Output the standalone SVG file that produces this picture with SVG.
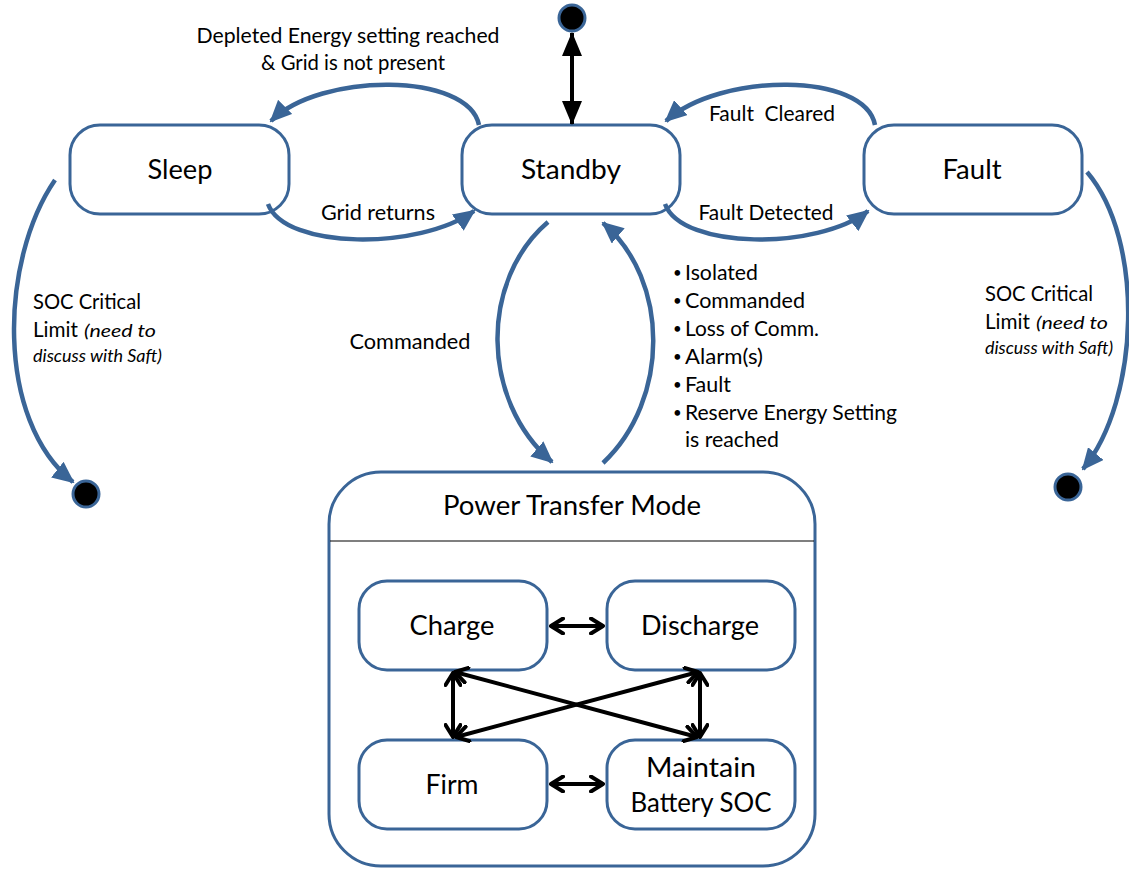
<svg xmlns="http://www.w3.org/2000/svg" width="1129" height="869" viewBox="0 0 1129 869">
  <style>
    .box { fill: #ffffff; stroke: #3a6597; stroke-width: 3; }
    .flow { fill: none; stroke: #3a6597; stroke-width: 4.5; marker-end: url(#blueHead); }
    .link { fill: none; stroke: #000000; stroke-width: 4; marker-start: url(#chev); marker-end: url(#chev); }
    .dot { fill: #000000; stroke: #3a6597; stroke-width: 3; }
    .name { font-family: Lato, "Liberation Sans", sans-serif; font-size: 27px; fill: #000; text-anchor: middle; }
    .lbl { font-family: Lato, "Liberation Sans", sans-serif; font-size: 21px; fill: #000; }
    .mid { text-anchor: middle; }
    .note { font-style: italic; font-size: 18px; }
    .bul { font-family: Lato, "Liberation Sans", sans-serif; font-size: 15px; fill: #000; }
  </style>
  <defs>
    <marker id="blueHead" markerUnits="userSpaceOnUse" viewBox="0 0 22 20" markerWidth="22" markerHeight="20" refX="20" refY="10" orient="auto">
      <path d="M0,0 L22,10 L0,20 Z" fill="#3a6597"/>
    </marker>
    <marker id="blackHead" markerUnits="userSpaceOnUse" viewBox="0 0 24 20" markerWidth="24" markerHeight="20" refX="23" refY="10" orient="auto-start-reverse">
      <path d="M0,0 L24,10 L0,20 Z" fill="#000"/>
    </marker>
    <marker id="chev" markerUnits="userSpaceOnUse" viewBox="0 0 16 18" markerWidth="16" markerHeight="18" refX="14" refY="9" orient="auto-start-reverse">
      <path d="M2,1.5 L14,9 L2,16.5" fill="none" stroke="#000" stroke-width="4" stroke-linecap="round" stroke-linejoin="round"/>
    </marker>
  </defs>

  <!-- top-level states -->
  <g id="sleep">
    <rect class="box" x="70" y="125" width="219" height="89" rx="30"/>
    <text class="name" x="180" y="179" textLength="65" lengthAdjust="spacingAndGlyphs">Sleep</text>
  </g>
  <g id="standby">
    <rect class="box" x="462" y="125" width="218" height="89" rx="30"/>
    <text class="name" x="571" y="179" textLength="100" lengthAdjust="spacingAndGlyphs">Standby</text>
  </g>
  <g id="fault">
    <rect class="box" x="864" y="125" width="218" height="89" rx="30"/>
    <text class="name" x="972" y="179" textLength="59" lengthAdjust="spacingAndGlyphs">Fault</text>
  </g>

  <!-- pseudo-states -->
  <g id="initial">
    <circle class="dot" cx="572" cy="18" r="13"/>
  </g>
  <g id="final-sleep">
    <circle class="dot" cx="86" cy="494" r="13"/>
  </g>
  <g id="final-fault">
    <circle class="dot" cx="1068" cy="487" r="13"/>
  </g>

  <!-- composite state -->
  <g id="power-transfer-mode">
    <rect class="box" x="329" y="472" width="486" height="394" rx="52"/>
    <line x1="330" y1="541" x2="814" y2="541" stroke="#000" stroke-width="1.2"/>
    <text class="name" x="572" y="515" textLength="258" lengthAdjust="spacingAndGlyphs">Power Transfer Mode</text>
  </g>
  <g id="charge">
    <rect class="box" x="359" y="581" width="188" height="89" rx="28"/>
    <text class="name" x="452" y="635" textLength="85" lengthAdjust="spacingAndGlyphs">Charge</text>
  </g>
  <g id="discharge">
    <rect class="box" x="607" y="581" width="188" height="89" rx="28"/>
    <text class="name" x="700" y="635" textLength="118" lengthAdjust="spacingAndGlyphs">Discharge</text>
  </g>
  <g id="firm">
    <rect class="box" x="359" y="740" width="188" height="89" rx="28"/>
    <text class="name" x="452" y="794" textLength="53" lengthAdjust="spacingAndGlyphs">Firm</text>
  </g>
  <g id="maintain">
    <rect class="box" x="607" y="740" width="188" height="89" rx="28"/>
    <text class="name" x="701" y="777" textLength="110" lengthAdjust="spacingAndGlyphs">Maintain</text>
    <text class="name" x="701" y="812" textLength="141" lengthAdjust="spacingAndGlyphs">Battery SOC</text>
  </g>

  <!-- transitions -->
  <g id="connectors">
    <line x1="572" y1="33" x2="572" y2="124" stroke="#000" stroke-width="4" marker-start="url(#blackHead)" marker-end="url(#blackHead)"/>
    <path class="flow" d="M479,125 C468,72 320,72 271,121"/>
    <path class="flow" d="M268,204 C285,250 420,250 474,211"/>
    <path class="flow" d="M875,125 C865,72 720,72 666,121"/>
    <path class="flow" d="M665,204 C682,250 818,250 868,211"/>
    <path class="flow" d="M548,222 C480,280 480,400 552,462"/>
    <path class="flow" d="M603,463 C670,400 670,280 603,223"/>
    <path class="flow" d="M55,180 C0,260 -5,420 73,482"/>
    <path class="flow" d="M1087,172 C1145,240 1140,400 1083,469"/>

    <line class="link" x1="551" y1="626" x2="603" y2="626"/>
    <line class="link" x1="551" y1="784" x2="603" y2="784"/>
    <line class="link" x1="453" y1="673" x2="453" y2="737"/>
    <line class="link" x1="700" y1="673" x2="700" y2="737"/>
    <line class="link" x1="455" y1="672" x2="697" y2="737"/>
    <line class="link" x1="698" y1="672" x2="456" y2="737"/>
  </g>

  <!-- transition labels -->
  <g id="labels">
    <text class="lbl mid" x="348" y="43" textLength="303" lengthAdjust="spacingAndGlyphs">Depleted Energy setting reached</text>
    <text class="lbl mid" x="353" y="70" textLength="184" lengthAdjust="spacingAndGlyphs">&amp; Grid is not present</text>
    <text class="lbl mid" x="378" y="220" textLength="114" lengthAdjust="spacingAndGlyphs">Grid returns</text>
    <text class="lbl mid" x="772" y="121" xml:space="preserve" textLength="126" lengthAdjust="spacingAndGlyphs">Fault  Cleared</text>
    <text class="lbl mid" x="766" y="220" textLength="135" lengthAdjust="spacingAndGlyphs">Fault Detected</text>
    <text class="lbl mid" x="410" y="349" textLength="121" lengthAdjust="spacingAndGlyphs">Commanded</text>

    <text class="lbl" x="33" y="309" textLength="108" lengthAdjust="spacingAndGlyphs">SOC Critical</text>
    <text class="lbl" x="33" y="337" textLength="45" lengthAdjust="spacingAndGlyphs">Limit</text>
    <text class="lbl note" x="84" y="337" textLength="72" lengthAdjust="spacingAndGlyphs">(need to</text>
    <text class="lbl note" x="33" y="362" textLength="129" lengthAdjust="spacingAndGlyphs">discuss with Saft)</text>

    <text class="lbl" x="985" y="301" textLength="108" lengthAdjust="spacingAndGlyphs">SOC Critical</text>
    <text class="lbl" x="985" y="329" textLength="45" lengthAdjust="spacingAndGlyphs">Limit</text>
    <text class="lbl note" x="1036" y="329" textLength="72" lengthAdjust="spacingAndGlyphs">(need to</text>
    <text class="lbl note" x="985" y="354" textLength="128" lengthAdjust="spacingAndGlyphs">discuss with Saft)</text>

    <text class="bul" x="673" y="278">•</text><text class="lbl" x="685" y="280" textLength="73" lengthAdjust="spacingAndGlyphs">Isolated</text>
    <text class="bul" x="673" y="306">•</text><text class="lbl" x="685" y="308" textLength="120" lengthAdjust="spacingAndGlyphs">Commanded</text>
    <text class="bul" x="673" y="334">•</text><text class="lbl" x="685" y="336" textLength="134" lengthAdjust="spacingAndGlyphs">Loss of Comm.</text>
    <text class="bul" x="673" y="362">•</text><text class="lbl" x="685" y="364" textLength="78" lengthAdjust="spacingAndGlyphs">Alarm(s)</text>
    <text class="bul" x="673" y="390">•</text><text class="lbl" x="685" y="392" textLength="46" lengthAdjust="spacingAndGlyphs">Fault</text>
    <text class="bul" x="673" y="418">•</text><text class="lbl" x="685" y="420" textLength="212" lengthAdjust="spacingAndGlyphs">Reserve Energy Setting</text>
    <text class="lbl" x="685" y="447" textLength="94" lengthAdjust="spacingAndGlyphs">is reached</text>
  </g>
</svg>
